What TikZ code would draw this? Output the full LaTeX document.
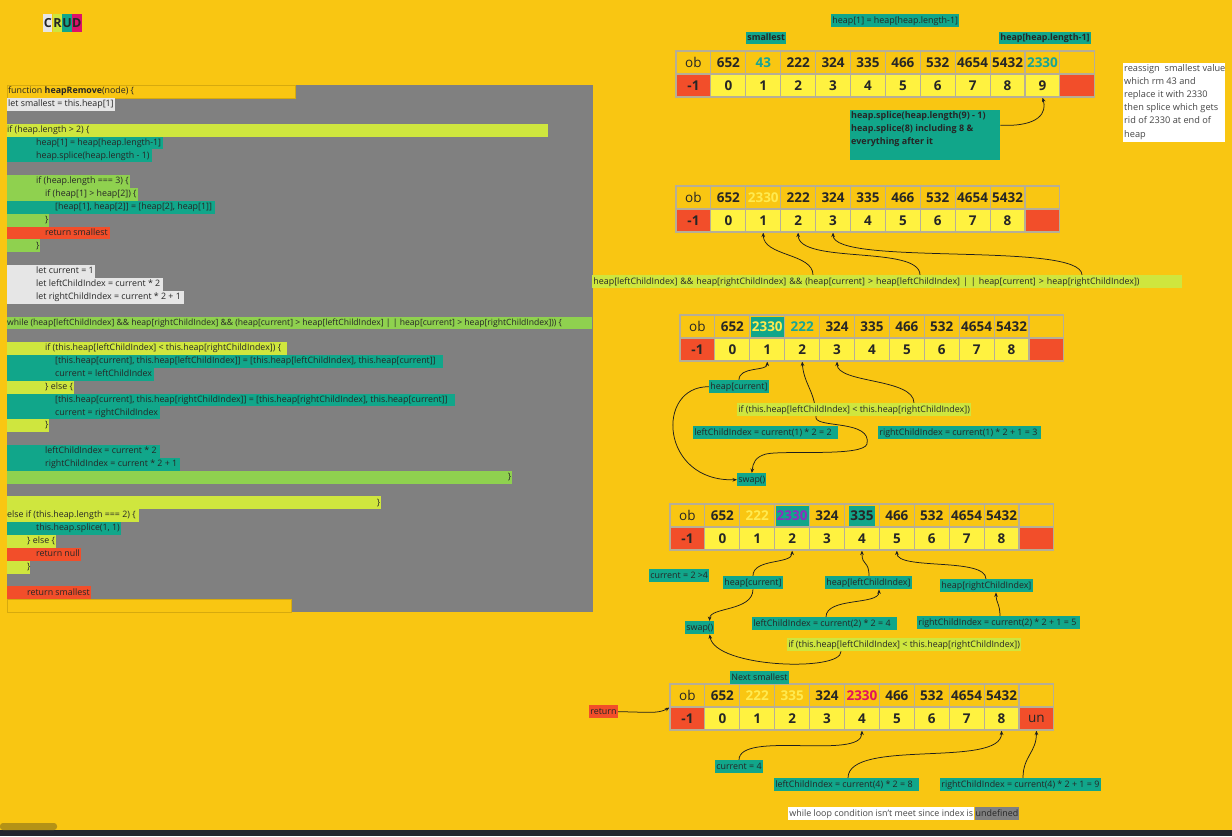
\documentclass[tikz,border=0pt]{standalone}
\usepackage{fontspec}
\setmainfont{Open Sans}
\usetikzlibrary{arrows.meta}

\definecolor{bgy}{RGB}{249,198,18}
\definecolor{bgyline}{RGB}{214,170,14}
\definecolor{tealc}{RGB}{17,166,138}
\definecolor{limec}{RGB}{207,230,62}
\definecolor{greenc}{RGB}{143,209,79}
\definecolor{redc}{RGB}{242,78,42}
\definecolor{lgray}{RGB}{230,230,230}
\definecolor{panel}{RGB}{128,128,128}
\definecolor{celly}{RGB}{255,242,64}
\definecolor{cellb}{RGB}{182,174,150}
\definecolor{ink}{RGB}{38,38,38}
\definecolor{notetxt}{RGB}{70,70,70}
\definecolor{tealtxt}{RGB}{22,165,150}
\definecolor{paley}{RGB}{255,234,80}
\definecolor{purp}{RGB}{142,45,190}
\definecolor{crimc}{RGB}{226,18,92}
\definecolor{pinkc}{RGB}{222,16,106}
\definecolor{darkbar}{RGB}{37,37,47}
\definecolor{scrollc}{RGB}{180,146,22}
\definecolor{wire}{RGB}{30,30,30}

\newcommand\codefont{\fontsize{8.85}{10}\selectfont}
\newcommand\labfont{\fontsize{8.9}{10}\selectfont}
\newcommand\labbold{\fontsize{8.9}{10}\selectfont\bfseries}
\newcommand\cellbold{\fontsize{13.5}{15}\selectfont\bfseries}
\newcommand\cellreg{\fontsize{13.5}{15}\selectfont}

\pgfdeclarelayer{back}
\pgfdeclarelayer{wires}
\pgfsetlayers{back,wires,main}

% one heap array: name, left x, top y, top row entries, index row entries
\newcommand\heaparr[5]{%
  \foreach \v/\s [count=\i from 0] in {#4}{
    \node[topcell,\s] (#1t\i) at ({#2+(\i+0.5)*34.9},{#3+11.5}) {\v};
  }
  \foreach \v/\s [count=\i from 0] in {#5}{
    \node[botcell,\s] (#1b\i) at ({#2+(\i+0.5)*34.9},{#3+34.5}) {\v};
  }
}

% one highlighted code line: name, line number, right edge, colour, indent, text
\newcommand\codeln[6]{%
  \node[codebox, fill=#4, minimum width={#3-7}] (#1) at (7,{85+12.85*#2}) {};
  \node[codetxt] (#1x) at ([xshift=#5]#1.west) {#6};
}

\begin{document}
\begin{tikzpicture}[x=1pt,y=-1pt,
  codebox/.style={anchor=north west, inner sep=0pt, minimum height=12.85},
  codetxt/.style={anchor=west, inner sep=0pt, font=\codefont, text=ink, text height=6.4pt, text depth=1.9pt},
  lab/.style={anchor=north west, fill=tealc, text=ink, font=\labfont, inner xsep=1.2pt, inner ysep=0pt,
              minimum height=13, text height=6.6pt, text depth=2pt, align=left},
  topcell/.style={draw=cellb, line width=1.1pt, minimum width=34.9, minimum height=23, inner sep=0pt,
                  font=\cellbold, text=ink},
  botcell/.style={topcell, fill=celly},
  num/.style={},
  idx/.style={},
  obc/.style={font=\cellreg},
  tnum/.style={text=tealtxt},
  pnum/.style={text=paley},
  crim/.style={text=crimc},
  negc/.style={fill=redc},
  endc/.style={fill=redc},
  unc/.style={fill=redc, font=\cellreg},
  hi/.style={path picture={\fill[tealc] ([xshift=#1,yshift=-1.5pt]path picture bounding box.north west)
             rectangle ([xshift=-#1,yshift=1.5pt]path picture bounding box.south east);}},
  hiY/.style={hi=1pt, text=paley},
  hiP/.style={hi=1pt, text=purp},
  hiD/.style={hi=4pt},
  conn/.style={draw=wire, line width=0.75pt, -{Stealth[length=4.5pt,width=3.6pt]}},
  both/.style={draw=wire, line width=0.75pt, {Stealth[length=4.5pt,width=3.6pt]}-{Stealth[length=4.5pt,width=3.6pt]}},
  crud/.style={anchor=north west, inner sep=0pt, minimum width=9.2, minimum height=18,
               font=\fontsize{12.5}{12.5}\selectfont\bfseries, text=ink}
]
\useasboundingbox (0,0) rectangle (1232,836);

\begin{pgfonlayer}{back}
  \fill[bgy] (0,0) rectangle (1232,836);
  \fill[darkbar] (0,830) rectangle (1232,836);
  \fill[scrollc, rounded corners=3pt] (0,823) rectangle (57,830);
  \fill[panel] (7,85) rectangle (593,612);
\end{pgfonlayer}

% title tiles
\node[crud, fill=lgray] (tC) at (43,14) {C};
\node[crud, fill=limec] (tR) at (tC.north east) {R};
\node[crud, fill=tealc] (tU) at (tR.north east) {U};
\node[crud, fill=pinkc] (tD) at (tU.north east) {D};

% ---------------- source listing ----------------
\node[codebox, fill=bgy, draw=bgyline, line width=0.5pt, minimum width=288] (c0) at (7,85) {};
\node[codetxt] (c0x) at ([xshift=1pt]c0.west) {function \textbf{heapRemove}(node) \{};
\codeln{c1}{1}{115}{lgray}{1pt}{let smallest = this.heap[1]}
\codeln{c3}{3}{548}{limec}{0pt}{if (heap.length > 2) \{}
\codeln{c4}{4}{163}{tealc}{29pt}{heap[1] = heap[heap.length-1]}
\codeln{c5}{5}{152}{tealc}{29pt}{heap.splice(heap.length - 1)}
\codeln{c7}{7}{130}{greenc}{29pt}{if (heap.length === 3) \{}
\codeln{c8}{8}{138}{greenc}{38pt}{if (heap[1] > heap[2]) \{}
\codeln{c9}{9}{215}{tealc}{48pt}{[heap[1], heap[2]] = [heap[2], heap[1]]}
\codeln{c10}{10}{49}{greenc}{38pt}{\}}
\codeln{c11}{11}{110}{redc}{38pt}{return smallest}
\codeln{c12}{12}{40}{greenc}{29pt}{\}}
\codeln{c14}{14}{95}{lgray}{29pt}{let current = 1}
\codeln{c15}{15}{163}{lgray}{29pt}{let leftChildIndex = current * 2}
\codeln{c16}{16}{184}{lgray}{29pt}{let rightChildIndex = current * 2 + 1}
\codeln{c18}{18}{592}{greenc}{0pt}{\fontsize{8.6}{10}\selectfont while (heap[leftChildIndex] \&\& heap[rightChildIndex] \&\& (heap[current] > heap[leftChildIndex] | | heap[current] > heap[rightChildIndex])) \{}
\codeln{c20}{20}{287}{limec}{38pt}{if (this.heap[leftChildIndex] < this.heap[rightChildIndex]) \{}
\codeln{c21}{21}{443}{tealc}{48pt}{[this.heap[current], this.heap[leftChildIndex]] = [this.heap[leftChildIndex], this.heap[current]]}
\codeln{c22}{22}{154}{tealc}{48pt}{current = leftChildIndex}
\codeln{c23}{23}{74}{limec}{38pt}{\} else \{}
\codeln{c24}{24}{455}{tealc}{48pt}{[this.heap[current], this.heap[rightChildIndex]] = [this.heap[rightChildIndex], this.heap[current]]}
\codeln{c25}{25}{160}{tealc}{48pt}{current = rightChildIndex}
\codeln{c26}{26}{49}{limec}{38pt}{\}}
\codeln{c28}{28}{160}{tealc}{38pt}{leftChildIndex = current * 2}
\codeln{c29}{29}{180}{tealc}{38pt}{rightChildIndex = current * 2 + 1}
\node[codebox, fill=greenc, minimum width=505] (c30) at (7,{85+12.85*30}) {};
\node[codetxt, anchor=east] (c30x) at ([xshift=-1pt]c30.east) {\}};
\node[codebox, fill=limec, minimum width=374] (c32) at (7,{85+12.85*32}) {};
\node[codetxt, anchor=east] (c32x) at ([xshift=-1pt]c32.east) {\}};
\codeln{c33}{33}{139}{limec}{0pt}{else if (this.heap.length === 2) \{}
\codeln{c34}{34}{121}{tealc}{29pt}{this.heap.splice(1, 1)}
\codeln{c35}{35}{56}{limec}{20pt}{\} else \{}
\codeln{c36}{36}{81}{redc}{29pt}{return null}
\codeln{c37}{37}{30}{limec}{20pt}{\}}
\codeln{c39}{39}{91}{redc}{20pt}{return smallest}
\node[codebox, fill=bgy, draw=bgyline, line width=0.5pt, minimum width=284] (c40) at (7,{85+12.85*40}) {};

% ---------------- arrays ----------------
\heaparr{A}{676}{51}
  {ob/obc, 652/num, 43/tnum, 222/num, 324/num, 335/num, 466/num, 532/num, 4654/num, 5432/num, 2330/tnum, /num}
  {-1/negc, 0/idx, 1/idx, 2/idx, 3/idx, 4/idx, 5/idx, 6/idx, 7/idx, 8/idx, 9/idx, /endc}
\heaparr{B}{676}{186}
  {ob/obc, 652/num, 2330/pnum, 222/num, 324/num, 335/num, 466/num, 532/num, 4654/num, 5432/num, /num}
  {-1/negc, 0/idx, 1/idx, 2/idx, 3/idx, 4/idx, 5/idx, 6/idx, 7/idx, 8/idx, /endc}
\heaparr{C}{680}{315}
  {ob/obc, 652/num, 2330/hiY, 222/tnum, 324/num, 335/num, 466/num, 532/num, 4654/num, 5432/num, /num}
  {-1/negc, 0/idx, 1/idx, 2/idx, 3/idx, 4/idx, 5/idx, 6/idx, 7/idx, 8/idx, /endc}
\heaparr{D}{670}{504}
  {ob/obc, 652/num, 222/pnum, 2330/hiP, 324/num, 335/hiD, 466/num, 532/num, 4654/num, 5432/num, /num}
  {-1/negc, 0/idx, 1/idx, 2/idx, 3/idx, 4/idx, 5/idx, 6/idx, 7/idx, 8/idx, /endc}
\heaparr{E}{670}{684}
  {ob/obc, 652/num, 222/pnum, 335/pnum, 324/num, 2330/crim, 466/num, 532/num, 4654/num, 5432/num, /num}
  {-1/negc, 0/idx, 1/idx, 2/idx, 3/idx, 4/idx, 5/idx, 6/idx, 7/idx, 8/idx, un/unc}

% ---------------- step 1 ----------------
\node[lab] (eqA) at (831,14) {heap[1] = heap[heap.length-1]};
\node[lab, font=\labbold, minimum height=12] (smA) at (746,32) {smallest};
\node[lab, font=\labbold, minimum height=12] (lastA) at (999,32) {heap[heap.length-1]};
\node[anchor=north west, fill=tealc, inner sep=0pt, minimum width=150, minimum height=50] (spl) at (850,110) {};
\node[anchor=north west, inner sep=1pt, font=\fontsize{9}{13}\selectfont\bfseries, text=ink, align=left]
  (splt) at (spl.north west) {heap.splice(heap.length(9) - 1)\\heap.splice(8) including 8 \&\\everything after it};
\node[anchor=north west, fill=white, inner sep=0pt, minimum width=102, minimum height=79] (note) at (1123,63) {};
\node[anchor=north west, inner sep=1pt, font=\fontsize{9.2}{13.2}\selectfont, text=notetxt, align=left]
  (notet) at (note.north west) {reassign\ \ smallest value\\which rm 43 and\\replace it with 2330\\then splice which gets\\rid of 2330 at end of\\heap};

% ---------------- step 2 ----------------
\node[lab, fill=limec, text width=587pt] (condB) at (592,275)
  {heap[leftChildIndex] \&\& heap[rightChildIndex] \&\& (heap[current] > heap[leftChildIndex] | | heap[current] > heap[rightChildIndex])};

% ---------------- step 3 ----------------
\node[lab] (hcC) at (709,380) {heap[current]};
\node[lab, fill=limec] (condC) at (737,403) {if (this.heap[leftChildIndex] < this.heap[rightChildIndex])};
\node[lab] (lC) at (693,426) {leftChildIndex = current(1) * 2 = 2\hspace{5pt}};
\node[lab] (rC) at (878,426) {rightChildIndex = current(1) * 2 + 1 = 3\hspace{2pt}};
\node[lab] (swC) at (737,473) {swap()};

% ---------------- step 4 ----------------
\node[lab] (curD) at (649,569) {current = 2 >4};
\node[lab] (hcD) at (723,576) {heap[current]};
\node[lab] (hlD) at (825,576) {heap[leftChildIndex]};
\node[lab] (hrD) at (940,579) {heap[rightChildIndex]};
\node[lab] (swD) at (685,621) {swap()};
\node[lab] (lD) at (752,617) {leftChildIndex = current(2) * 2 = 4\hspace{5pt}};
\node[lab] (rD) at (917,616) {rightChildIndex = current(2) * 2 + 1 = 5\hspace{2pt}};
\node[lab, fill=limec] (condD) at (787,638) {if (this.heap[leftChildIndex] < this.heap[rightChildIndex])};

% ---------------- step 5 ----------------
\node[lab] (nsE) at (730,671) {Next smallest};
\node[lab, fill=redc] (retE) at (589,705) {return};
\node[lab] (curE) at (715,760) {current = 4};
\node[lab] (lE) at (774,778) {leftChildIndex = current(4) * 2 = 8\hspace{5pt}};
\node[lab] (rE) at (940,778) {rightChildIndex = current(4) * 2 + 1 = 9};
\node[lab, fill=white, text=notetxt] (endE) at (788,807) {while loop condition isn't meet since index is};
\node[lab, anchor=west, fill=panel, xshift=-0.3pt] (udE) at (endE.east) {undefined};

% ---------------- connectors ----------------
\begin{pgfonlayer}{wires}
  \draw[conn] ([yshift=10pt]spl.east) .. controls (1040,127) and (1047,112) .. (Ab10.south);

  \draw[conn] ([xshift=221pt]condB.north west) .. controls +(0,-22) and +(0,24) .. (Bb2.south);
  \draw[conn] ([xshift=328pt]condB.north west) .. controls +(0,-30) and +(0,32) .. (Bb3.south);
  \draw[conn] ([xshift=490pt]condB.north west) .. controls +(0,-34) and +(0,34) .. (Bb4.south);

  \draw[conn] (hcC.north) .. controls +(0,-14) and +(0,10) .. (Cb2.south);
  \draw[conn] ([xshift=177pt]condC.north west) .. controls +(0,-25) and +(0,22) .. (Cb4.south);
  \draw[conn] (hcC.west) .. controls (655,386) and (660,482) .. (swC.west);
  \draw[both] (Cb3.south) .. controls (804,385) and (816,392) .. (816,418)
              .. controls (818,428) and (872,420) .. (867,444)
              .. controls (863,457) and (785,450) .. (766,454)
              .. controls (755,457) and (753,463) .. (swC.north);

  \draw[conn] (hcD.north) .. controls +(0,-18) and +(0,14) .. (Db3.south);
  \draw[conn] ([xshift=44pt]hlD.north west) .. controls +(0,-16) and +(0,16) .. (Db5.south);
  \draw[conn] ([xshift=46pt]hrD.north west) .. controls +(0,-22) and +(0,20) .. (Db6.south);
  \draw[conn] (hcD.south) .. controls +(0,22) and +(0,-14) .. ([xshift=-5pt]swD.north east);
  \draw[conn] ([xshift=74pt]lD.north west) .. controls +(0,-20) and +(0,16) .. ([xshift=54pt]hlD.south west);
  \draw[conn] ([xshift=83pt]rD.north west) .. controls +(0,-12) and +(0,10) .. ([xshift=56pt]hrD.south west);
  \draw[conn] ([xshift=54pt]condD.south west) .. controls (842,672) and (715,668) .. ([xshift=-5pt]swD.south east);

  \draw[conn] (retE.east) .. controls (648,712) and (658,714) .. (Et0.south west);
  \draw[conn] (curE.north) .. controls +(0,-30) and +(0,30) .. (Eb5.south);
  \draw[conn] ([xshift=74pt]lE.north west) .. controls +(0,-40) and +(0,38) .. (Eb9.south);
  \draw[conn] ([xshift=83pt]rE.north west) .. controls +(0,-22) and +(0,22) .. (Eb10.south);
\end{pgfonlayer}
\end{tikzpicture}
\end{document}
